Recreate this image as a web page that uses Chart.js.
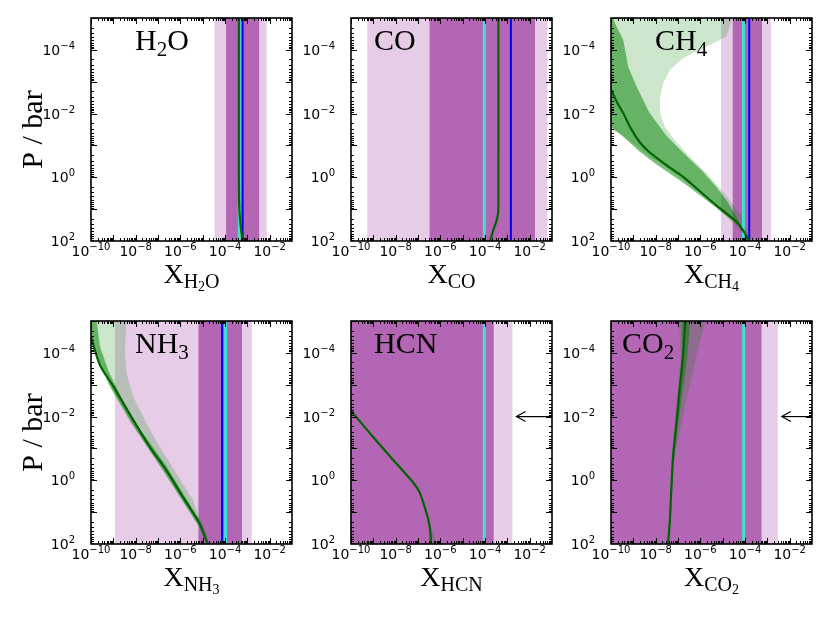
<!DOCTYPE html>
<html>
<head>
<meta charset="utf-8">
<script src="https://cdn.jsdelivr.net/npm/chart.js@4.4.1/dist/chart.umd.min.js"></script>
<style>
  body { margin: 0; background: #fff; }
  #wrap { position: relative; width: 830px; height: 623px; overflow: hidden; }
  #wrap canvas { position: absolute; }
</style>
</head>
<body>
<div id="wrap"></div>
<script>
// all values are log10 exponents
const xTicks = [-10, -8, -6, -4, -2];
const yTicks = [-4, -2, 0, 2];
const xRange = [-10, -1];
const pRange = [-5, 2];

const species = ['H2O', 'CO', 'CH4', 'NH3', 'HCN', 'CO2'];

// retrieved 1 and 2 sigma ranges (vertical bands)
const lightBand = [[-4.47, -2.13], [-9.27, -1.21], [-5.07, -2.84], [-8.93, -2.80], [-11, -2.77], [-11, -2.53]];
const darkBand = [[-3.95, -2.47], [-6.48, -1.76], [-4.55, -3.24], [-5.19, -3.24], [-11, -3.61], [-11, -3.26]];
const cyanLine = [-3.36, -4.03, -4.07, -3.98, -4.03, -4.06];
const blueLine = [-3.21, -2.84, -3.81, -4.13, null, null];
// upper limit arrows: [start of arrow, pressure]
const arrowAt = [null, null, null, null, [-2.59, -2], [-2.35, -2]];

// model profiles [logX, logP]
const h2oMedian = [[-3.38, -5], [-3.38, 0], [-3.36, 1.0], [-3.3, 1.5], [-3.21, 2]];
const coMedian = [[-3.4, -5], [-3.4, 0.9], [-3.42, 1.15], [-3.5, 1.4], [-3.6, 1.6], [-3.78, 2]];
const ch4Median = [[-10, -2.76], [-9.75, -2.38], [-9.45, -2.01], [-9.1, -1.52], [-8.71, -1.1], [-8.3, -0.8],
  [-7.82, -0.54], [-7.3, -0.27], [-6.78, -0.02], [-6.25, 0.3], [-5.74, 0.61], [-5.3, 0.87], [-4.84, 1.13],
  [-4.40, 1.39], [-4.10, 1.65], [-3.88, 1.92], [-3.81, 2.0]];
const nh3Median = [[-10, -4.5], [-9.6, -3.62], [-9.0, -2.95], [-8.11, -1.89], [-7.37, -1.05], [-6.63, -0.32],
  [-5.89, 0.52], [-5.14, 1.35], [-4.77, 2.0]];
const hcnMedian = [[-10, -2.18], [-9, -1.35], [-8, -0.55], [-7.3, 0.0], [-6.95, 0.35], [-6.75, 0.73], [-6.55, 1.2],
  [-6.45, 1.6], [-6.42, 2.0]];
const co2Median = [[-6.67, -5], [-6.78, -3.88], [-6.93, -2.83], [-7.07, -1.79], [-7.22, -0.74], [-7.3, 0.31],
  [-7.37, 1.35], [-7.45, 2.0]];

const ch4Outer = [[-10, -5], [-4.56, -5], [-4.84, -4.41], [-5.74, -4.10], [-6.78, -3.74], [-7.37, -3.37], [-7.67, -2.95],
  [-7.82, -2.43], [-7.79, -2.01], [-7.59, -1.59], [-7.15, -1.17], [-6.45, -0.64], [-5.65, -0.07], [-5.05, 0.40],
  [-4.70, 0.71], [-4.12, 1.25], [-3.89, 1.75], [-3.81, 2.0], [-3.95, 2.0], [-4.25, 1.65], [-4.84, 1.24], [-5.59, 0.71],
  [-6.78, 0.08], [-8.26, -0.65], [-9.6, -1.38], [-10, -1.48]];
const ch4Inner = [[-10, -5], [-9.91, -5], [-9.82, -4.83], [-9.45, -4.31], [-9.23, -3.47], [-8.85, -2.84], [-8.3, -2.05],
  [-7.52, -1.3], [-6.7, -0.72], [-5.89, -0.18], [-5.29, 0.30], [-4.84, 0.71], [-4.45, 1.15], [-4.1, 1.6], [-3.88, 1.95],
  [-3.95, 1.98], [-4.3, 1.5], [-4.84, 1.21], [-5.74, 0.71], [-6.78, 0.16], [-7.96, -0.40], [-8.71, -0.80],
  [-9.45, -1.27], [-10, -1.59]];
const nh3Outer = [[-10, -5], [-8.41, -5], [-8.48, -4.09], [-8.41, -3.36], [-8.11, -2.62], [-7.52, -1.79], [-6.93, -1.05],
  [-6.18, -0.22], [-5.44, 0.62], [-4.9, 1.6], [-4.72, 2.0], [-4.85, 2.0], [-5.14, 1.45], [-6.63, -0.2], [-8.11, -1.75],
  [-9.0, -2.8], [-10, -4.25]];
const nh3Inner = [[-10, -5], [-9.75, -5], [-9.6, -4.2], [-9.2, -3.4], [-8.6, -2.55], [-7.8, -1.6], [-6.6, -0.42],
  [-5.1, 1.3], [-4.74, 2.0], [-4.82, 2.0], [-5.2, 1.42], [-6.7, -0.22], [-8.2, -1.8], [-9.2, -3.0], [-10, -4.35]];
const hcnOuter = [[-6.5, 1.3], [-6.15, 2.0], [-6.45, 2.0]];
const co2Outer = [[-6.95, -5], [-5.74, -5], [-6.0, -4.4], [-6.18, -3.88], [-6.4, -3.2], [-6.63, -2.52], [-7.0, -1.26],
  [-7.2, -0.5], [-7.28, 0.3], [-7.35, 1.35], [-7.43, 2.0], [-7.5, 2.0], [-7.42, 1.35], [-7.35, 0.3], [-7.28, -0.74],
  [-7.15, -1.79], [-7.02, -2.83], [-6.88, -3.88]];
const co2Inner = [[-6.82, -5], [-6.45, -5], [-6.58, -3.88], [-6.82, -2.7], [-7.0, -1.7], [-7.17, -0.74], [-7.27, 0.31],
  [-7.35, 1.35], [-7.43, 2.0], [-7.47, 2.0], [-7.39, 1.35], [-7.33, 0.31], [-7.26, -0.74], [-7.11, -1.79],
  [-6.97, -2.83], [-6.83, -3.88]];

const medians = [h2oMedian, coMedian, ch4Median, nh3Median, hcnMedian, co2Median];
const outerEnv = [[], [], ch4Outer, nh3Outer, hcnOuter, co2Outer];
const innerEnv = [[], [], ch4Inner, nh3Inner, [], co2Inner];

// labels: [text, level] where level 0 = normal, 1 = subscript, 2 = sub-subscript
const titleParts = [
  [['H', 0], ['2', 1], ['O', 0]],
  [['CO', 0]],
  [['CH', 0], ['4', 1]],
  [['NH', 0], ['3', 1]],
  [['HCN', 0]],
  [['CO', 0], ['2', 1]]
];
const xLabelParts = [
  [['X', 0], ['H', 1], ['2', 2], ['O', 1]],
  [['X', 0], ['CO', 1]],
  [['X', 0], ['CH', 1], ['4', 2]],
  [['X', 0], ['NH', 1], ['3', 2]],
  [['X', 0], ['HCN', 1]],
  [['X', 0], ['CO', 1], ['2', 2]]
];
const titleOffset = [44, 23, 44, 44, 23, 11];

const SERIF = '"Liberation Serif", "DejaVu Serif", serif';
const SANS = '"DejaVu Sans", sans-serif';

const toPts = (pts) => pts.map(([lx, lp]) => ({ x: 10 ** lx, y: 10 ** lp }));
const bandPts = ([lo, hi]) => toPts([[lo, pRange[0]], [hi, pRange[0]], [hi, pRange[1]], [lo, pRange[1]]]);
const vline = (lx) => toPts([[lx, pRange[0]], [lx, pRange[1]]]);

const drawRich = (ctx, parts, x, y, sizes, shifts, align) => {
  let w = 0;
  parts.forEach(([t, lv]) => {
    ctx.font = sizes[lv] + 'px ' + SERIF;
    w += ctx.measureText(t).width;
  });
  let cx = align === 'center' ? x - w / 2 : x;
  parts.forEach(([t, lv]) => {
    ctx.font = sizes[lv] + 'px ' + SERIF;
    ctx.fillText(t, cx, y + shifts[lv]);
    cx += ctx.measureText(t).width;
  });
};

// "10" with a raised exponent
const drawPow = (ctx, value, x, y, align) => {
  const ex = String(Math.round(Math.log10(value))).replace('-', '\u2212');
  ctx.font = '14px ' + SANS;
  const w1 = ctx.measureText('10').width;
  ctx.font = '10px ' + SANS;
  const w2 = ctx.measureText(ex).width;
  const x0 = align === 'right' ? x - w1 - w2 : x - (w1 + w2) / 2;
  ctx.font = '14px ' + SANS;
  ctx.fillText('10', x0, y);
  ctx.font = '10px ' + SANS;
  ctx.fillText(ex, x0 + w1, y - 6);
};

// frame, inward ticks, labels and arrow heads
const decor = {
  id: 'decor',
  afterDatasetsDraw(chart, args, opts) {
    const { ctx, chartArea: a, scales: { x, y } } = chart;
    const i = opts.panel;
    ctx.save();
    ctx.strokeStyle = '#000';
    ctx.lineWidth = 1;
    const seg = (x1, y1, x2, y2) => { ctx.beginPath(); ctx.moveTo(x1, y1); ctx.lineTo(x2, y2); ctx.stroke(); };
    for (let e = xRange[0]; e < xRange[1]; e++) {
      for (let m = 1; m < 10; m++) {
        const px = Math.round(x.getPixelForValue(m * 10 ** e)) + 0.5;
        const len = m === 1 ? 6 : 3;
        seg(px, a.bottom, px, a.bottom - len);
        seg(px, a.top, px, a.top + len);
      }
    }
    for (let e = pRange[0]; e < pRange[1]; e++) {
      for (let m = 1; m < 10; m++) {
        const py = Math.round(y.getPixelForValue(m * 10 ** e)) + 0.5;
        const len = m === 1 ? 6 : 3;
        seg(a.left, py, a.left + len, py);
        seg(a.right, py, a.right - len, py);
      }
    }
    ctx.lineWidth = 1.6;
    ctx.strokeRect(a.left, a.top, a.right - a.left, a.bottom - a.top);

    // arrow head
    if (arrowAt[i]) {
      const meta = chart.getDatasetMeta(chart.data.datasets.length - 1);
      const p = meta.data[0];
      ctx.lineWidth = 1.2;
      ctx.beginPath();
      ctx.moveTo(p.x + 9, p.y - 5);
      ctx.lineTo(p.x, p.y);
      ctx.lineTo(p.x + 9, p.y + 5);
      ctx.stroke();
    }

    ctx.fillStyle = '#000';
    ctx.textAlign = 'left';
    ctx.textBaseline = 'alphabetic';
    // tick labels
    x.ticks.forEach(t => drawPow(ctx, t.value, x.getPixelForValue(t.value), a.bottom + 15, 'center'));
    y.ticks.forEach(t => drawPow(ctx, t.value, a.left - 16, y.getPixelForValue(t.value) + 5, 'right'));

    drawRich(ctx, titleParts[i], a.left + titleOffset[i], a.top + 32, [30, 21], [0, 6], 'left');
    drawRich(ctx, xLabelParts[i], (a.left + a.right) / 2, a.bottom + 42, [28, 20, 14], [0, 5, 8], 'center');
    if (i % 3 === 0) {
      ctx.save();
      ctx.translate(a.left - 49, (a.top + a.bottom) / 2);
      ctx.rotate(-Math.PI / 2);
      ctx.textAlign = 'center';
      ctx.font = '30px ' + SERIF;
      ctx.fillText('P / bar', 0, 0);
      ctx.restore();
    }
    ctx.restore();
  }
};

const wrap = document.getElementById('wrap');

species.forEach((name, i) => {
  const col = i % 3;
  const row = Math.floor(i / 3);
  const cv = document.createElement('canvas');
  cv.width = 300;
  cv.height = 303;
  cv.style.left = col * 260 + 'px';
  cv.style.top = row * 303 + 'px';
  wrap.appendChild(cv);

  // back to front
  const sets = [];
  const add = (data, o) => sets.push(Object.assign({
    data, pointRadius: 0, borderWidth: 0, borderColor: 'rgba(0,0,0,0)', fill: false, tension: 0
  }, o));
  add(bandPts(lightBand[i]), { label: name + ' 2 sigma', fill: 'shape', backgroundColor: 'rgba(128,0,128,0.2)' });
  add(bandPts(darkBand[i]), { label: name + ' 1 sigma', fill: 'shape', backgroundColor: 'rgba(128,0,128,0.5)' });
  if (outerEnv[i].length) add(toPts(outerEnv[i]), { fill: 'shape', backgroundColor: 'rgba(0,128,0,0.2)' });
  if (innerEnv[i].length) add(toPts(innerEnv[i]), { fill: 'shape', backgroundColor: 'rgba(0,128,0,0.5)' });
  add(vline(cyanLine[i]), { borderColor: '#40e0d0', borderWidth: 3 });
  if (blueLine[i] !== null) add(vline(blueLine[i]), { borderColor: '#0000ff', borderWidth: 2 });
  add(toPts(medians[i]), { borderColor: '#006400', borderWidth: 2.2, tension: 0.3 });
  if (arrowAt[i]) add(toPts([arrowAt[i], [xRange[1], arrowAt[i][1]]]), { borderColor: '#000', borderWidth: 1.2 });
  sets.forEach((d, k) => { d.order = sets.length - k; });

  new Chart(cv, {
    type: 'line',
    data: { datasets: sets },
    options: {
      responsive: false,
      animation: false,
      devicePixelRatio: 1,
      events: [],
      layout: { padding: { top: 18, right: 8, left: 0, bottom: 0 } },
      plugins: { legend: { display: false }, tooltip: { enabled: false }, decor: { panel: i } },
      scales: {
        x: {
          type: 'logarithmic',
          min: 10 ** xRange[0],
          max: 10 ** xRange[1],
          bounds: 'data',
          afterBuildTicks: (s) => { s.ticks = xTicks.map(e => ({ value: 10 ** e })); },
          afterFit: (s) => { s.height = 62; },
          grid: { display: false, drawTicks: false },
          border: { display: false },
          ticks: { display: false }
        },
        y: {
          type: 'logarithmic',
          reverse: true,
          min: 10 ** pRange[0],
          max: 10 ** pRange[1],
          bounds: 'data',
          afterBuildTicks: (s) => { s.ticks = yTicks.map(e => ({ value: 10 ** e })); },
          afterFit: (s) => { s.width = 91; },
          grid: { display: false, drawTicks: false },
          border: { display: false },
          ticks: { display: false }
        }
      }
    },
    plugins: [decor]
  });
});
</script>
</body>
</html>
